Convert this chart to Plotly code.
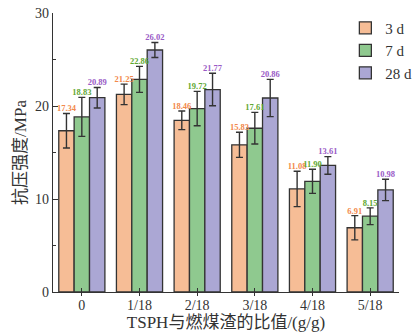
import plotly.graph_objects as go

categories = ["0", "1/18", "2/18", "3/18", "4/18", "5/18"]
series_names = ["3 d", "7 d", "28 d"]
vals_3d = [17.34, 21.25, 18.46, 15.83, 11.08, 6.91]
vals_7d = [18.83, 22.86, 19.72, 17.61, 11.90, 8.15]
vals_28d = [20.89, 26.02, 21.77, 20.86, 13.61, 10.98]
err_3d = [1.85, 1.1, 1.0, 1.35, 1.9, 1.3]
err_7d = [2.1, 1.4, 1.85, 1.7, 1.3, 0.9]
err_28d = [1.1, 0.8, 1.75, 2.0, 0.95, 1.15]

fills = ["#F6BD96", "#8FC98F", "#ABA7D4"]
label_colors = ["#F2884A", "#5FA832", "#9A5BC6"]
FONT = "Liberation Serif, Times New Roman, Noto Sans CJK SC, serif"

fig = go.Figure()
data = [(vals_3d, err_3d), (vals_7d, err_7d), (vals_28d, err_28d)]
for i, (name, (v, e)) in enumerate(zip(series_names, data)):
    fig.add_trace(go.Bar(
        x=categories, y=v, name=name, offsetgroup=str(i),
        marker=dict(color=fills[i], line=dict(color="#333333", width=1.3)),
        error_y=dict(type="data", array=e, visible=True, color="#333333",
                     thickness=1.4, width=3.5),
    ))
for i, (v, e) in enumerate(data):
    fig.add_trace(go.Scatter(
        x=categories, y=[a + b for a, b in zip(v, e)], mode="text",
        text=[f"{a:.2f}" for a in v], textposition="top center",
        textfont=dict(family=FONT, size=8.5, color=label_colors[i], weight="bold"),
        offsetgroup=str(i), showlegend=False, hoverinfo="skip",
    ))

fig.update_layout(
    width=420, height=333,
    margin=dict(l=53, r=3, t=13, b=41),
    paper_bgcolor="white", plot_bgcolor="white",
    barmode="group", bargap=0.2, bargroupgap=0,
    scattermode="group", scattergap=0.2,
    font=dict(family=FONT, size=14, color="#333333"),
    legend=dict(x=0.845, y=1.005, xanchor="left", yanchor="top",
                font=dict(family=FONT, size=15, color="#333333"),
                bgcolor="rgba(0,0,0,0)", tracegroupgap=0,
                itemwidth=30),
    showlegend=True,
)
fig.update_xaxes(
    range=[-0.5, 5.5], showline=True, linecolor="#333333", linewidth=1.3,
    ticks="inside", ticklen=4, tickcolor="#333333", tickwidth=1.2,
    minor=dict(ticks="outside", ticklen=3, tickcolor="#333333", dtick=1, tick0=0.5),
    tickfont=dict(family=FONT, size=14, color="#333333"),
    title=dict(text="TSPH与燃煤渣的比值/(g/g)", standoff=2,
               font=dict(family=FONT, size=17, color="#333333")),
    showgrid=False, zeroline=False,
)
fig.update_yaxes(
    range=[0, 30], dtick=10, showline=True, linecolor="#333333", linewidth=1.3,
    ticks="inside", ticklen=5, tickcolor="#333333", tickwidth=1.2,
    minor=dict(ticks="inside", ticklen=3, dtick=5, tickcolor="#333333"),
    tickfont=dict(family=FONT, size=14, color="#333333"),
    title=dict(text="抗压强度/MPa", standoff=4,
               font=dict(family=FONT, size=17, color="#333333")),
    showgrid=False, zeroline=False,
)
fig.write_html("out.html")
